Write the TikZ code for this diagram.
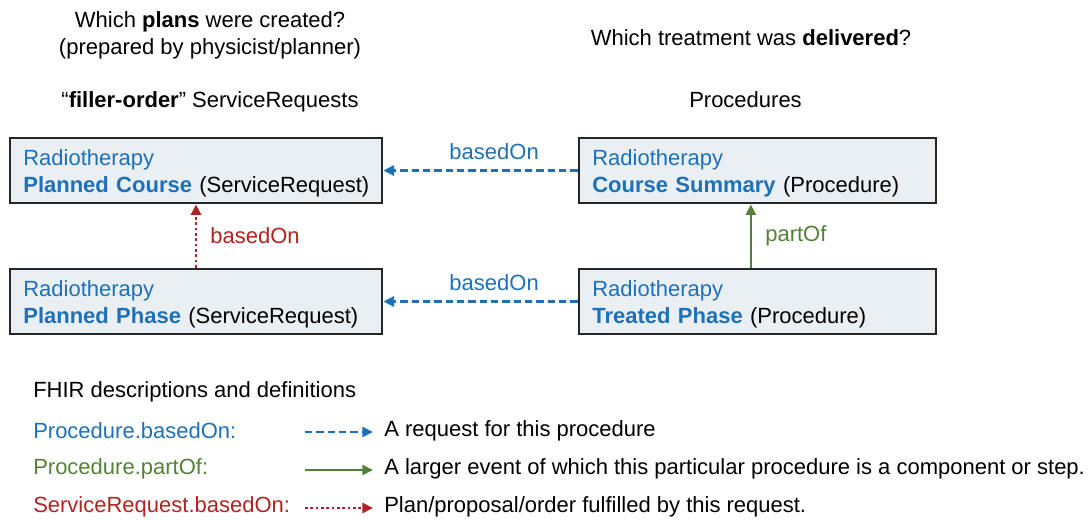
\documentclass[tikz,border=0pt]{standalone}
\usepackage{fontspec}
\setmainfont{Liberation Sans}
\usetikzlibrary{arrows.meta}
\definecolor{fhirblue}{RGB}{30,113,184}
\definecolor{fhirgreen}{RGB}{84,130,53}
\definecolor{fhirred}{RGB}{178,34,34}
\definecolor{boxfill}{RGB}{234,239,243}
\tikzset{>={Triangle[length=8pt,width=7.5pt]}}
\tikzset{%
    resource/.style={%
        draw=black!85, fill=boxfill, line width=2pt,
        minimum height=48.75pt, inner xsep=10pt, inner ysep=2pt,
        align=left, font=\fontsize{16.5}{20}\selectfont
    },
    heading/.style={align=center, font=\fontsize{16.5}{20}\selectfont},
    legendtext/.style={anchor=west, inner xsep=0pt, font=\fontsize{16.5}{20}\selectfont},
    basedon/.style={->, fhirblue, line width=2pt, dash pattern=on 5.5pt off 3pt},
    partof/.style={->, fhirgreen, line width=2pt},
    srbasedon/.style={->, fhirred, line width=2pt, dash pattern=on 2pt off 2pt},
    lbl/.style={font=\fontsize{16.5}{20}\selectfont}
}
\newcommand{\rtitle}[2]{\rule{0pt}{16.5pt}{\color{fhirblue}Radiotherapy}\\\mbox{{\color{fhirblue}\bfseries #1} (#2)}}

\begin{document}
\begin{tikzpicture}[x=0.75pt,y=-0.75pt]
\useasboundingbox (0,0) rectangle (1091,520);

\node[heading] (qplans) at (210,35.5) {Which \textbf{plans} were created?\\(prepared by physicist/planner)};
\node[heading] (qtreat) at (751,38) {Which treatment was \textbf{delivered}?};
\node[heading] (hsr) at (210,102) {“\textbf{filler-order}” ServiceRequests};
\node[heading] (hproc) at (745.5,100) {Procedures};

\node[resource, text width=259pt] (pc) at (196,170.5) {\rtitle{Planned Course}{ServiceRequest}};
\node[resource, text width=259pt] (pp) at (196,301.5) {\rtitle{Planned Phase}{ServiceRequest}};
\node[resource, text width=247.75pt] (cs) at (757.5,170.5) {\rtitle{Course Summary}{Procedure}};
\node[resource, text width=247.75pt] (tp) at (757.5,301.5) {\rtitle{Treated Phase}{Procedure}};

\draw[basedon] (cs.west) -- (pc.east) node[lbl, pos=0.43, above=3.5pt] {basedOn};
\draw[basedon] (tp.west) -- (pp.east) node[lbl, pos=0.43, above=3.5pt] {basedOn};
\draw[srbasedon] (pp.north) -- (pc.south) node[lbl, fhirred, midway, right=6.5pt] {basedOn};
\draw[partof] ([xshift=-5pt]tp.north) -- ([xshift=-5pt]cs.south) node[lbl, fhirgreen, midway, right=6.5pt] {partOf};

\node[legendtext] (legtitle) at (33,392) {FHIR descriptions and definitions};
\node[legendtext, fhirblue] (lpb) at (33,431) {Procedure.basedOn:};
\node[legendtext, fhirgreen] (lpp) at (33,469) {Procedure.partOf:};
\node[legendtext, fhirred] (lsb) at (33,507) {ServiceRequest.basedOn:};

\coordinate (a1) at (305,432);
\coordinate (b1) at (373,432);
\coordinate (a2) at (305,470);
\coordinate (b2) at (373,470);
\coordinate (a3) at (305,508);
\coordinate (b3) at (373,508);
\draw[basedon] (a1) -- (b1);
\draw[partof] (a2) -- (b2);
\draw[srbasedon] (a3) -- (b3);

\node[legendtext] (dpb) at (384,431) {A request for this procedure};
\node[legendtext] (dpp) at (384,469) {A larger event of which this particular procedure is a component or step.};
\node[legendtext] (dsb) at (384,507) {Plan/proposal/order fulfilled by this request.};
\end{tikzpicture}
\end{document}
